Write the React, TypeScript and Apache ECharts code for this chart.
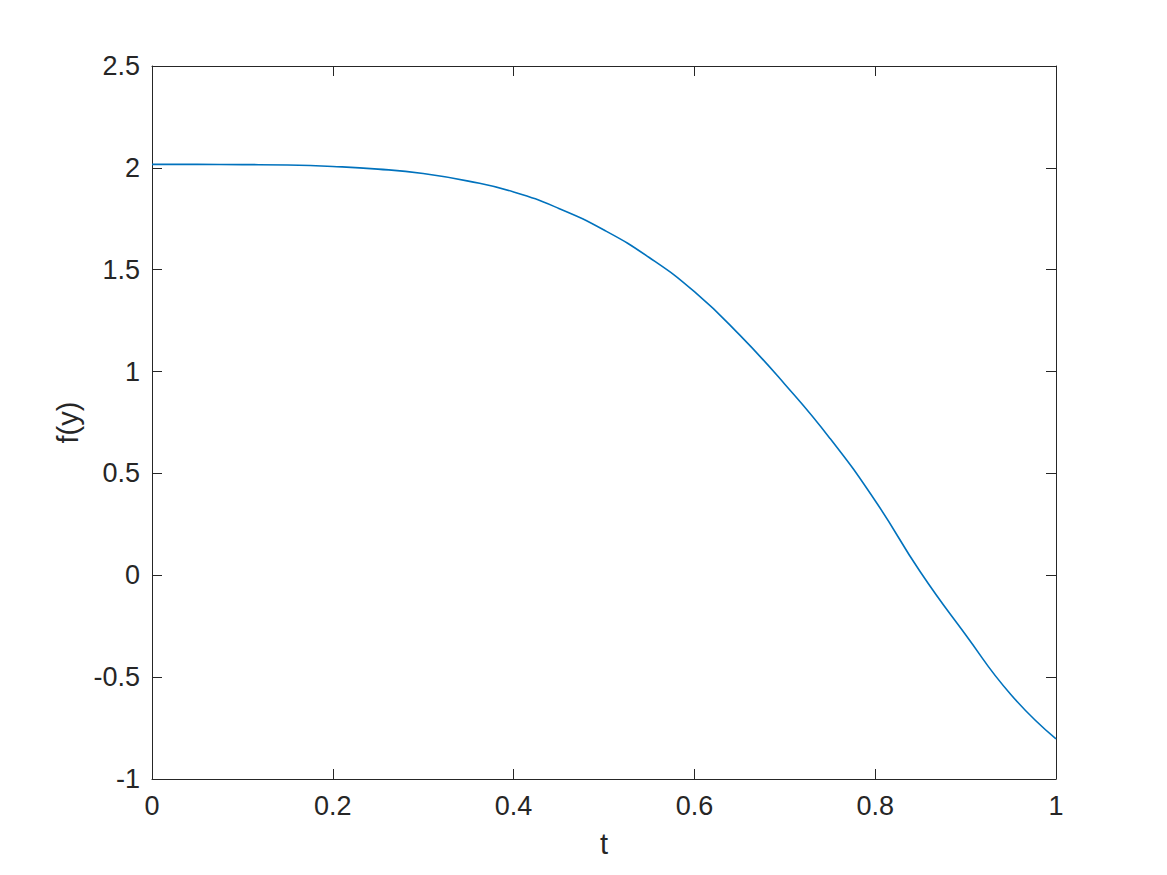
import React, { useEffect, useRef } from "react";
import * as echarts from "echarts";

const tValues = [0, 0.05, 0.1, 0.15, 0.2, 0.25, 0.3, 0.35, 0.4, 0.45, 0.5, 0.55, 0.6, 0.65, 0.7, 0.75, 0.8, 0.85, 0.9, 0.95, 1];
const fValues = [2.017, 2.017, 2.016, 2.014, 2.007, 1.994, 1.972, 1.935, 1.882, 1.801, 1.695, 1.56, 1.392, 1.18, 0.938, 0.672, 0.366, 0.016, -0.292, -0.585, -0.803];
const xTickLabels = ["0", "0.2", "0.4", "0.6", "0.8", "1"];
const yTickLabels = ["-1", "-0.5", "0", "0.5", "1", "1.5", "2", "2.5"];

const FONT = "'Liberation Sans', Arial, Helvetica, sans-serif";
const INK = "#262626";

export default function App() {
  const ref = useRef<HTMLDivElement>(null);
  useEffect(() => {
    if (!ref.current) return;
    const chart = echarts.init(ref.current, undefined, { renderer: "svg" });
    const tickStyle = { show: true, inside: true, length: 10, lineStyle: { color: INK, width: 1 } };
    const lineStyle = { show: true, onZero: false, lineStyle: { color: INK, width: 1 } };
    chart.setOption({
      animation: false,
      backgroundColor: "#ffffff",
      grid: { left: 152, top: 66, right: 111, bottom: 96, containLabel: false },
      xAxis: [
        {
          type: "value",
          min: 0,
          max: 1,
          interval: 0.2,
          position: "bottom",
          axisLine: lineStyle,
          axisTick: tickStyle,
          splitLine: { show: false },
          axisLabel: {
            fontSize: 27,
            color: INK,
            fontFamily: FONT,
            margin: 13,
            formatter: (v: number) => xTickLabels[Math.round(v / 0.2)] ?? String(v),
          },
          name: "t",
          nameLocation: "middle",
          nameGap: 50,
          nameTextStyle: { fontSize: 29, color: INK, fontFamily: FONT },
        },
        {
          type: "value",
          min: 0,
          max: 1,
          interval: 0.2,
          position: "top",
          axisLine: lineStyle,
          axisTick: tickStyle,
          splitLine: { show: false },
          axisLabel: { show: false },
        },
      ],
      yAxis: [
        {
          type: "value",
          min: -1,
          max: 2.5,
          interval: 0.5,
          position: "left",
          axisLine: lineStyle,
          axisTick: tickStyle,
          splitLine: { show: false },
          axisLabel: {
            fontSize: 27,
            color: INK,
            fontFamily: FONT,
            margin: 12,
            formatter: (v: number) => yTickLabels[Math.round((v + 1) / 0.5)] ?? String(v),
          },
          name: "f(y)",
          nameLocation: "middle",
          nameGap: 67,
          nameRotate: 90,
          nameTextStyle: { fontSize: 29, color: INK, fontFamily: FONT },
        },
        {
          type: "value",
          min: -1,
          max: 2.5,
          interval: 0.5,
          position: "right",
          axisLine: lineStyle,
          axisTick: tickStyle,
          splitLine: { show: false },
          axisLabel: { show: false },
        },
      ],
      series: [
        {
          type: "line",
          xAxisIndex: 0,
          yAxisIndex: 0,
          data: tValues.map((t, i) => [t, fValues[i]]),
          smooth: 0.5,
          symbol: "none",
          lineStyle: { color: "#0072BD", width: 1.6 },
        },
      ],
    });
    return () => chart.dispose();
  }, []);
  return (
    <div
      ref={ref}
      style={{ position: "fixed", left: 0, top: 0, width: 1167, height: 875, background: "#fff" }}
    />
  );
}
